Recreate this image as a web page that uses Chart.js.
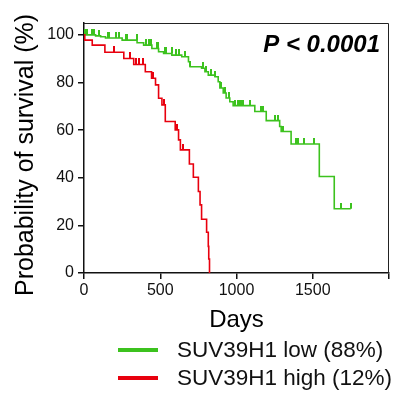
<!DOCTYPE html>
<html><head><meta charset="utf-8">
<script src="https://cdn.jsdelivr.net/npm/chart.js@4"></script>
<style>
html,body{margin:0;padding:0;background:#fff;}
#wrap{position:absolute;left:0;top:0;width:394px;height:335px;}
#legend{position:absolute;left:0;top:0;width:394px;height:395px;font-family:'Liberation Sans',Arial,sans-serif;font-size:22.5px;color:#111;pointer-events:none;}
.sw{position:absolute;left:118px;width:40px;height:4px;}
.tx{position:absolute;left:177px;white-space:nowrap;line-height:28px;height:28px;}
</style></head><body>
<div id="wrap"><canvas id="c"></canvas></div>
<div id="legend"></div>
<script>
// ---- data ----
const seriesNames = ['SUV39H1 low (88%)', 'SUV39H1 high (12%)'];
const seriesColors = ['#3cc21e', '#e8000e'];

const lowDays = [0, 76, 109, 141, 250, 348, 391, 445, 489, 522, 576, 641, 685, 696, 771, 793, 815, 859, 880, 891, 913, 932, 956, 978, 1120, 1195, 1283, 1293, 1358, 1543, 1641, 1749];
const lowSurv = [100, 99.6, 99.2, 98.7, 97.8, 96.7, 95.7, 94.3, 92.9, 92.2, 91.5, 90.8, 88.7, 86.6, 86.0, 84.5, 83.1, 82.4, 80.3, 77.7, 75.6, 73.5, 71.9, 70.3, 67.8, 64.0, 61.5, 59.4, 54.2, 40.5, 27.0, 27.0];
const lowCensorDays = [5, 20, 52, 65, 98, 156, 163, 209, 228, 274, 280, 346, 404, 424, 437, 476, 485, 528, 535, 574, 600, 620, 665, 698, 783, 802, 834, 860, 899, 926, 952, 991, 1010, 1022, 1032, 1043, 1087, 1161, 1174, 1252, 1271, 1304, 1389, 1402, 1445, 1506, 1684, 1749];

const highDays = [0, 5, 54, 137, 261, 326, 402, 443, 469, 489, 511, 533, 598, 620, 632, 691, 717, 750, 761, 771, 804, 815, 818, 823];
const highSurv = [100, 97.8, 95.7, 92.7, 90.1, 87.6, 84.5, 81.8, 79.0, 73.4, 70.6, 63.6, 60.1, 55.9, 51.7, 45.8, 40.2, 34.2, 28.6, 22.6, 17.1, 11.2, 5.9, 0];
const highCensorDays = [196, 304, 341, 359, 385, 450, 522, 613, 652];

const xTickValues = [0, 500, 1000, 1500, 2000];
const xTickLabels = ['0', '500', '1000', '1500', ''];
const yTickValues = [0, 20, 40, 60, 80, 100];
const xTitle = 'Days';
const yTitle = 'Probability of survival (%)';
const pLabel = 'P < 0.0001';

// ---- helpers ----
const FONT = "'Liberation Sans', Arial, Helvetica, sans-serif";
function survAt(days, surv, t) {
  let s = surv[0];
  for (let i = 0; i < days.length; i++) { if (days[i] <= t) s = surv[i]; }
  return s;
}
function tickImg(color) {
  const c = document.createElement('canvas');
  c.width = 2; c.height = 12;
  const g = c.getContext('2d');
  g.fillStyle = color;
  g.fillRect(0, 0, 2, 6);
  return c;
}
const curve = (d, s) => d.map((v, i) => ({x: v, y: s[i]}));
const censors = (cd, d, s) => cd.map(t => ({x: t, y: survAt(d, s, t)}));

const boxPlugin = {
  id: 'box',
  afterDraw(chart) {
    const {ctx, chartArea: a} = chart;
    ctx.save();
    ctx.strokeStyle = '#222';
    ctx.lineWidth = 1;
    ctx.beginPath();
    ctx.moveTo(a.left, a.top + 0.5); ctx.lineTo(a.right - 0.5, a.top + 0.5); ctx.lineTo(a.right - 0.5, a.bottom);
    ctx.stroke();
    ctx.fillStyle = '#000';
    ctx.font = 'italic bold 24px ' + FONT;
    ctx.textAlign = 'right';
    ctx.textBaseline = 'middle';
    ctx.fillText(pLabel, a.right - 9, a.top + 22);
    // y axis title
    ctx.save();
    ctx.translate(26, 155);
    ctx.rotate(-Math.PI / 2);
    ctx.font = '25px ' + FONT;
    ctx.textAlign = 'center';
    ctx.textBaseline = 'middle';
    ctx.fillText(yTitle, 0, 0);
    ctx.restore();
    ctx.restore();
  }
};

new Chart(document.getElementById('c'), {
  type: 'scatter',
  data: {
    datasets: [
      {label: seriesNames[0], data: curve(lowDays, lowSurv), showLine: true, stepped: 'before', borderColor: seriesColors[0], borderWidth: 1.6, pointRadius: 0, fill: false, order: 2},
      {label: seriesNames[1], data: curve(highDays, highSurv), showLine: true, stepped: 'before', borderColor: seriesColors[1], borderWidth: 1.6, pointRadius: 0, fill: false, order: 1},
      {label: 'c0', data: censors(lowCensorDays, lowDays, lowSurv), showLine: false, pointStyle: tickImg(seriesColors[0]), pointRadius: 3, order: 2},
      {label: 'c1', data: censors(highCensorDays, highDays, highSurv), showLine: false, pointStyle: tickImg(seriesColors[1]), pointRadius: 3, order: 1}
    ]
  },
  options: {
    responsive: true,
    maintainAspectRatio: false,
    animation: false,
    events: [],
    layout: {padding: {top: 23, right: 1.5, left: 0, bottom: 0}},
    plugins: {legend: {display: false}, tooltip: {enabled: false}},
    scales: {
      x: {
        type: 'linear', min: 0, max: 2000,
        afterBuildTicks: s => { s.ticks = xTickValues.map(v => ({value: v})); },
        afterFit: s => { s.height = 62; },
        ticks: {autoSkip: false, maxRotation: 0, padding: 2, color: '#111', font: {family: FONT, size: 16},
          callback: (v, i) => xTickLabels[xTickValues.indexOf(v)]},
        grid: {display: true, drawOnChartArea: false, drawTicks: true, tickLength: 6, color: '#111', lineWidth: 1.5},
        border: {display: true, color: '#111', width: 1.5},
        title: {display: true, text: xTitle, color: '#000', font: {family: FONT, size: 24}, padding: {top: 0, bottom: 0}}
      },
      y: {
        type: 'linear', min: 0, max: 105,
        afterBuildTicks: s => { s.ticks = yTickValues.map(v => ({value: v})); },
        afterFit: s => { s.width = 84; },
        ticks: {autoSkip: false, padding: 4, color: '#111', font: {family: FONT, size: 16}},
        grid: {display: true, drawOnChartArea: false, drawTicks: true, tickLength: 6, color: '#111', lineWidth: 1.5},
        border: {display: true, color: '#111', width: 1.5},
        title: {display: false}
      }
    }
  },
  plugins: [boxPlugin]
});

// HTML legend from the series
const lg = document.getElementById('legend');
const rowCenters = [350, 378];
seriesNames.forEach((n, i) => {
  const sw = document.createElement('div');
  sw.className = 'sw'; sw.style.background = seriesColors[i]; sw.style.top = (rowCenters[i] - 2) + 'px';
  const tx = document.createElement('div');
  tx.className = 'tx'; tx.textContent = n; tx.style.top = (rowCenters[i] - 14) + 'px';
  lg.appendChild(sw); lg.appendChild(tx);
});
</script>
</body></html>
